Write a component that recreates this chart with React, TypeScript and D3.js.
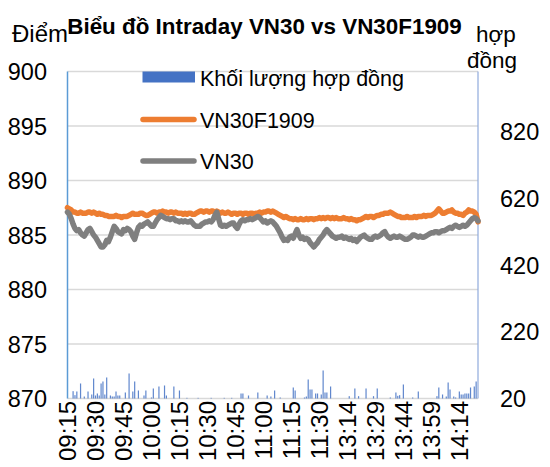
import React from 'react';
import * as d3 from 'd3';

// Trading sessions (minute categories on the x axis)
const sessions: [string, string][] = [['09:15', '11:30'], ['13:00', '14:24']];
const tickLabels = ['09:15', '09:30', '09:45', '10:00', '10:15', '10:30', '10:45', '11:00', '11:15', '11:30', '13:14', '13:29', '13:44', '13:59', '14:14'];
const leftTicks = [870, 875, 880, 885, 890, 895, 900];
const rightTicks = [20, 220, 420, 620, 820];

const toMin = (s: string) => +s.slice(0, 2) * 60 + +s.slice(3);
const fmt = (m: number) => `${String(Math.floor(m / 60)).padStart(2, '0')}:${String(m % 60).padStart(2, '0')}`;
const categories: string[] = sessions.flatMap(([a, b]) => d3.range(toMin(a), toMin(b) + 1).map(fmt));

const vn30f = [
  887.5, 887.4, 887.3, 887.1, 887.1, 887.0, 887.0, 887.1, 887.0, 887.0,
  887.0, 887.1, 887.1, 887.0, 887.1, 887.0, 886.9, 887.0, 886.9, 886.9,
  886.8, 886.8, 886.7, 886.7, 886.7, 886.7, 886.8, 886.7, 886.7, 886.6,
  886.7, 886.7, 886.7, 886.8, 886.9, 887.0, 886.9, 886.9, 886.9, 887.0,
  887.0, 886.9, 886.8, 886.8, 886.9, 887.0, 887.1, 887.1, 887.0, 887.1,
  887.1, 887.2, 887.1, 887.1, 887.0, 887.1, 887.1, 887.0, 887.1, 887.0,
  887.0, 887.0, 886.9, 887.0, 886.9, 887.0, 887.0, 886.9, 886.9, 887.0,
  887.1, 887.2, 887.2, 887.1, 887.2, 887.2, 887.1, 887.2, 887.2, 887.1,
  887.2, 887.1, 887.0, 887.1, 887.0, 887.0, 887.1, 887.0, 886.9, 887.0,
  887.0, 886.9, 887.0, 887.0, 886.9, 887.0, 887.0, 886.9, 887.0, 887.0,
  886.9, 887.0, 887.0, 887.1, 887.0, 887.1, 887.1, 887.2, 887.2, 887.1,
  887.2, 887.1, 887.0, 886.9, 886.8, 886.7, 886.6, 886.7, 886.6, 886.5,
  886.5, 886.4, 886.5, 886.4, 886.4, 886.5, 886.4, 886.4, 886.5, 886.4,
  886.5, 886.5, 886.4, 886.5, 886.5, 886.6, 886.5, 886.6, 886.5, 886.6,
  886.6, 886.5, 886.6, 886.5, 886.6, 886.5, 886.5, 886.5, 886.6, 886.5,
  886.5, 886.4, 886.5, 886.4, 886.4, 886.3, 886.4, 886.4, 886.5, 886.6,
  886.7, 886.6, 886.7, 886.7, 886.6, 886.7, 886.8, 886.8, 886.9, 886.9,
  887.0, 887.0, 887.0, 887.1, 887.0, 886.9, 886.8, 886.7, 886.7, 886.6,
  886.6, 886.6, 886.7, 886.6, 886.6, 886.6, 886.7, 886.6, 886.7, 886.7,
  886.7, 886.8, 886.7, 886.8, 886.8, 886.8, 886.9, 887.0, 887.2, 887.4,
  887.2, 887.0, 887.0, 887.1, 887.2, 887.2, 887.3, 887.1, 887.0, 887.0,
  886.9, 886.9, 886.8, 887.0, 887.1, 887.3, 887.2, 887.2, 887.1, 886.9,
  886.2,
];

const vn30 = [
  887.1, 886.9, 886.5, 886.0, 885.6, 885.4, 885.5, 885.2, 885.0, 884.9,
  885.2, 885.5, 885.6, 885.3, 885.0, 884.8, 884.5, 884.2, 883.9, 883.9,
  884.1, 884.5, 884.4, 884.8, 885.3, 885.8, 885.6, 885.3, 885.2, 885.1,
  885.5, 885.4, 885.6, 885.5, 885.3, 884.9, 884.6, 885.2, 885.7, 885.9,
  885.8, 886.0, 886.1, 886.2, 886.0, 885.8, 885.8, 886.1, 886.4, 886.6,
  886.8, 886.7, 886.6, 886.5, 886.5, 886.4, 886.5, 886.5, 886.3, 886.3,
  886.2, 886.3, 886.2, 886.3, 886.2, 886.2, 886.3, 886.1, 885.9, 885.8,
  885.8, 885.8, 886.0, 886.1, 886.2, 886.2, 886.3, 886.2, 886.4, 886.8,
  887.1, 886.5, 885.9, 885.8, 885.9, 885.8, 885.9, 886.0, 886.1, 886.1,
  885.8, 885.6, 886.0, 886.3, 886.4, 886.3, 886.4, 886.4, 886.5, 886.4,
  886.5, 886.6, 886.7, 886.6, 886.4, 886.2, 886.3, 886.1, 886.2, 886.3,
  886.2, 886.0, 885.8, 885.5, 885.2, 884.8, 884.5, 884.6, 884.5, 884.8,
  884.9, 884.7, 885.1, 885.5, 885.0, 884.7, 884.8, 884.6, 884.7, 884.6,
  884.3, 884.1, 883.9, 884.1, 884.3, 884.6, 884.8, 885.0, 885.3, 885.5,
  885.3, 885.1, 884.9, 884.8, 884.7, 884.8, 884.8, 884.9, 884.7, 884.8,
  884.7, 884.6, 884.7, 884.5, 884.6, 884.4, 884.6, 884.8, 884.9, 885.0,
  884.8, 884.7, 884.6, 884.6, 884.8, 884.9, 884.8, 884.9, 885.0, 885.2,
  885.3, 885.0, 884.8, 884.7, 884.8, 884.9, 884.8, 884.8, 884.9, 884.8,
  884.7, 884.6, 884.6, 884.7, 884.8, 885.0, 885.0, 884.9, 884.8, 884.9,
  884.8, 884.8, 884.9, 885.0, 885.1, 885.2, 885.2, 885.3, 885.3, 885.2,
  885.3, 885.4, 885.4, 885.5, 885.6, 885.7, 885.6, 885.8, 885.9, 885.8,
  885.7, 885.8, 885.9, 885.8, 885.9, 886.1, 886.3, 886.5, 886.6, 886.5,
  886.3,
];

// Khối lượng hợp đồng (0 = no visible bar)
const volume = [
  0, 0, 0, 42, 30, 41, 0, 65, 0, 26,
  0, 41, 0, 32, 80, 29, 35, 29, 65, 71,
  32, 83, 0, 29, 26, 26, 41, 29, 29, 0,
  0, 38, 0, 95, 0, 41, 71, 0, 44, 0,
  0, 29, 44, 0, 0, 23, 50, 0, 0, 56,
  0, 0, 59, 29, 0, 0, 0, 56, 0, 0,
  44, 0, 0, 0, 22, 0, 0, 0, 0, 0,
  22, 0, 0, 0, 0, 0, 0, 22, 0, 0,
  0, 0, 0, 0, 22, 0, 0, 0, 22, 0,
  0, 0, 0, 35, 35, 0, 0, 29, 0, 0,
  0, 0, 38, 0, 0, 0, 0, 29, 0, 26,
  0, 44, 0, 0, 23, 0, 0, 0, 0, 0,
  0, 53, 44, 0, 0, 0, 0, 23, 26, 77,
  47, 47, 0, 35, 35, 0, 32, 104, 38, 38,
  0, 56, 0, 0, 0, 0, 0, 0, 0, 0,
  0, 27, 0, 0, 50, 0, 27, 0, 0, 0,
  50, 0, 0, 0, 27, 0, 50, 0, 0, 0,
  0, 0, 0, 23, 0, 0, 38, 28, 30, 0,
  62, 0, 0, 0, 0, 23, 0, 0, 41, 0,
  0, 0, 0, 0, 0, 0, 0, 0, 27, 53,
  0, 32, 0, 26, 68, 47, 0, 26, 23, 0,
  41, 32, 32, 35, 35, 35, 53, 0, 56, 71,
  0,
];

const W = 550;
const H = 467;
const plot = { left: 67.5, right: 478, top: 71.5, bottom: 398.5 };
const FONT = 'Liberation Sans, Arial, sans-serif';

const App: React.FC = () => {
  const x = d3.scaleLinear().domain([0, categories.length - 1]).range([plot.left, plot.right]);
  const y = d3.scaleLinear().domain([870, 900]).range([plot.bottom, plot.top]);
  const yR = d3.scaleLinear().domain([20, 1000]).range([plot.bottom, plot.top]);

  const line = d3.line<number>().x((_, i) => x(i)).y(d => y(d));
  const barW = 1.2;

  return (
    <div style={{ position: 'absolute', left: 0, top: 0 }}>
      <svg width={W} height={H} style={{ display: 'block', background: '#fff' }} fontFamily={FONT}>
        {/* gridlines */}
        {leftTicks.map(t => (
          <line key={t} x1={plot.left} x2={plot.right} y1={y(t)} y2={y(t)} stroke="#D9D9D9" strokeWidth={1.3} />
        ))}

        {/* volume bars */}
        {volume.map((v, i) =>
          v > 20 ? (
            <rect key={i} x={x(i) - barW / 2} y={yR(v)} width={barW} height={yR(20) - yR(v)} fill="#4472C4" opacity={0.85} />
          ) : null
        )}

        {/* axis lines */}
        <line x1={plot.left} x2={plot.left} y1={plot.top} y2={plot.bottom} stroke="#5B9BD5" strokeWidth={1.5} />
        <line x1={plot.right} x2={plot.right} y1={plot.top} y2={plot.bottom} stroke="#8FAADC" strokeWidth={1.2} />

        {/* price lines */}
        <path d={line(vn30f) ?? ''} fill="none" stroke="#ED7D31" strokeWidth={5.5} strokeLinejoin="round" strokeLinecap="round" />
        <path d={line(vn30) ?? ''} fill="none" stroke="#7F7F7F" strokeWidth={5.5} strokeLinejoin="round" strokeLinecap="round" />

        {/* left axis labels */}
        {leftTicks.map(t => (
          <text key={t} x={47} y={y(t) + 8.5} textAnchor="end" fontSize={23.5} fill="#000">{t}</text>
        ))}
        {/* right axis labels */}
        {rightTicks.map(t => (
          <text key={t} x={500} y={yR(t) + 8.5} textAnchor="start" fontSize={23.5} fill="#000">{t}</text>
        ))}

        {/* x labels */}
        {tickLabels.map(lbl => {
          const i = categories.indexOf(lbl);
          const cx = x(i) + 8.5;
          return (
            <text key={lbl} x={cx} y={401} transform={`rotate(-90 ${cx} 401)`} textAnchor="end" fontSize={24} fill="#000">{lbl}</text>
          );
        })}

        {/* titles */}
        <text x={12} y={42} fontSize={24} fill="#000">Điểm</text>
        <text x={264.5} y={33.5} textAnchor="middle" fontSize={22.4} fontWeight="bold" fill="#000">Biểu đồ Intraday VN30 vs VN30F1909</text>
        <text x={496} y={41.5} textAnchor="middle" fontSize={22.5} fill="#000">hợp</text>
        <text x={492} y={68} textAnchor="middle" fontSize={22.5} fill="#000">đồng</text>

        {/* legend */}
        <rect x={142.5} y={71.5} width={52.5} height={11} fill="#4472C4" />
        <text x={200} y={86} fontSize={21.5} fill="#000">Khối lượng hợp đồng</text>
        <line x1={143} x2={194} y1={119.5} y2={119.5} stroke="#ED7D31" strokeWidth={5.5} strokeLinecap="round" />
        <text x={200} y={127.5} fontSize={21.5} fill="#000">VN30F1909</text>
        <line x1={143} x2={194} y1={161} y2={161} stroke="#7F7F7F" strokeWidth={5.5} strokeLinecap="round" />
        <text x={200} y={169} fontSize={21.5} fill="#000">VN30</text>
      </svg>
    </div>
  );
};

export default App;
